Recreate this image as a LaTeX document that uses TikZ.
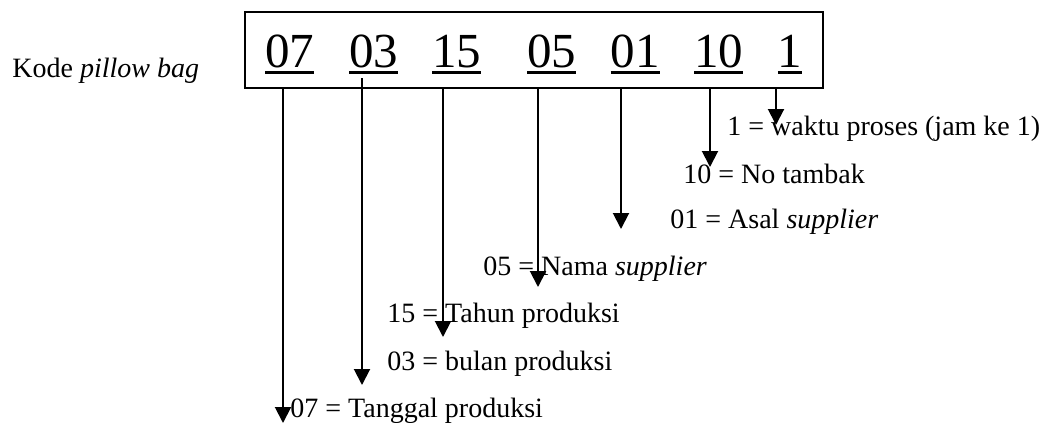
\documentclass[tikz,border=0pt]{standalone}
\usepackage{fontspec}
\setmainfont{Liberation Serif}
\usepackage{tikz}
\usetikzlibrary{positioning}
\usetikzlibrary{arrows.meta}
\newcommand{\undl}[1]{\vtop{\hbox{#1}\kern1.8pt\hrule height 1.5pt}}
\tikzstyle{codebox} = [rectangle, draw=black, line width=1pt, minimum width=289pt, minimum height=38pt, inner sep=0pt]
\tikzstyle{digit} = [anchor=base, inner sep=0pt, font=\fontsize{24.5}{28}\selectfont]
\tikzstyle{label} = [anchor=base west, inner sep=0pt, font=\fontsize{14}{16}\selectfont]
\tikzstyle{arrow} = [line width=1pt, -{Triangle[width=8pt, length=8pt]}]

\begin{document}
\begin{tikzpicture}[x=0.5pt, y=-0.5pt]
    \useasboundingbox (0,0) rectangle (1055,423);
    % Nodes
    \node (kode) [label] at (12,77) {Kode \textit{pillow bag}};
    \node (box) [codebox] at (534,50) {};
    \node (d07) [digit] at (289.5,67) {\undl{07}};
    \node (d03) [digit] at (373.5,67) {\undl{03}};
    \node (d15) [digit] at (456.5,67) {\undl{15}};
    \node (d05) [digit] at (551.5,67) {\undl{05}};
    \node (d01) [digit] at (635,67) {\undl{01}};
    \node (d10) [digit] at (718.5,67) {\undl{10}};
    \node (d1) [digit] at (790,67) {\undl{1}};
    \node (l1) [label] at (727,135) {1 = waktu proses (jam ke 1)};
    \node (l10) [label] at (683,183) {10 = No tambak};
    \node (l01) [label] at (670,228) {01 = Asal \textit{supplier}};
    \node (l05) [label] at (483,275) {05 = Nama \textit{supplier}};
    \node (l15) [label] at (387,322) {15 = Tahun produksi};
    \node (l03) [label] at (387,370) {03 = bulan produksi};
    \node (l07) [label] at (290,417) {07 = Tanggal produksi};
    % Arrow ends
    \coordinate (t07) at (283,423);
    \coordinate (s03) at (362,78);
    \coordinate (t03) at (362,385);
    \coordinate (t15) at (443,337);
    \coordinate (t05) at (538,287);
    \coordinate (t01) at (621,229);
    \coordinate (t10) at (710,167);
    \coordinate (t1) at (776,125);
    % Arrows
    \draw [arrow] (t07 |- box.south) -- (t07);
    \draw [arrow] (s03) -- (t03);
    \draw [arrow] (t15 |- box.south) -- (t15);
    \draw [arrow] (t05 |- box.south) -- (t05);
    \draw [arrow] (t01 |- box.south) -- (t01);
    \draw [arrow] (t10 |- box.south) -- (t10);
    \draw [arrow] (t1 |- box.south) -- (t1);
\end{tikzpicture}
\end{document}
